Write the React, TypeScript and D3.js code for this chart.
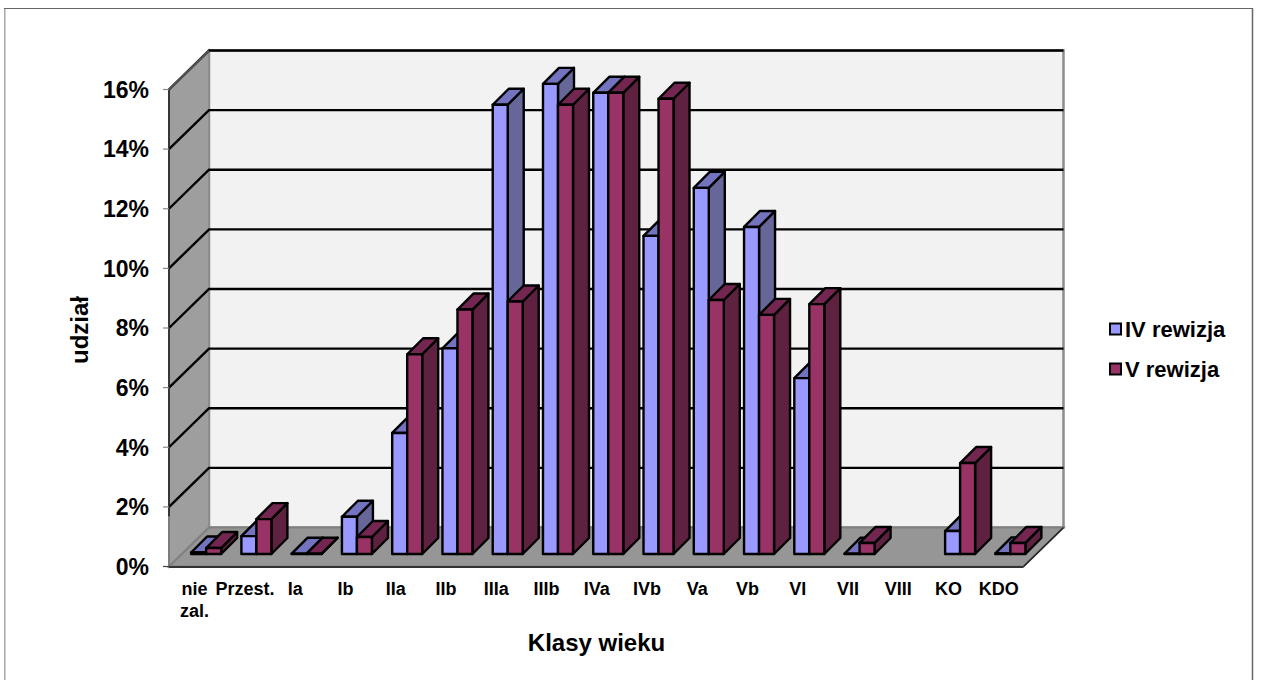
import React from "react";
import * as d3 from "d3";

const categories = ["nie zal.", "Przest.", "Ia", "Ib", "IIa", "IIb", "IIIa", "IIIb", "IVa", "IVb", "Va", "Vb", "VI", "VII", "VIII", "KO", "KDO"];
const rewizjaIV: (number | null)[] = [0.05, 0.6, 0.01, 1.25, 4.06, 6.9, 15.07, 15.77, 15.47, 10.67, 12.28, 10.97, 5.9, 0.01, null, 0.77, 0.02];
const rewizjaV: (number | null)[] = [0.2, 1.17, 0.01, 0.57, 6.7, 8.2, 8.47, 15.07, 15.47, 15.27, 8.52, 8.02, 8.38, 0.37, null, 3.05, 0.37];
const yTicks = [0, 2, 4, 6, 8, 10, 12, 14, 16];

const W = 1261, H = 680;
const font = "Liberation Sans, Arial, sans-serif";
const x = d3.scaleBand<string>().domain(categories).range([169, 1023.5]);
const y = d3.scaleLinear().domain([0, 16]).range([566.5, 89.5]);
const dx = 40, dy = 39;
const insetX = 12, insetY = 12.5;
const barW = 15;
const barD = 16;
const pts = (p: number[][]) => p.map(a => a.join(",")).join(" ");

type Pal = { front: string; top: string; side: string };
const blue: Pal = { front: "#9999ff", top: "#7373bf", side: "#666699" };
const red: Pal = { front: "#993366", top: "#732650", side: "#5e2140" };

function Bar({ x0, v, p }: { x0: number; v: number; p: Pal }) {
  const base = y(0) - insetY;
  const top = y(v) - insetY;
  const x1 = x0 + barW;
  return (
    <g stroke="#000" strokeWidth={2.4} strokeLinejoin="round">
      <polygon points={pts([[x1, top], [x1 + barD, top - barD], [x1 + barD, base - barD], [x1, base]])} fill={p.side} />
      <polygon points={pts([[x0, top], [x0 + barD, top - barD], [x1 + barD, top - barD], [x1, top]])} fill={p.top} />
      <rect x={x0} y={top} width={barW} height={base - top} fill={p.front} />
    </g>
  );
}

export default function App() {
  const yTop = y(16), yBot = y(0);
  const xL = 169, xR = 1023.5;
  return (
    <svg width={W} height={H} viewBox={`0 0 ${W} ${H}`} style={{ position: "absolute", left: 0, top: 0, display: "block", background: "#fff" }} fontFamily={font} fontWeight="bold" fill="#000">
      <line x1={4.8} y1={8} x2={4.8} y2={H} stroke="#a8a8a8" strokeWidth={1.5} />
      <line x1={4} y1={8.5} x2={1253} y2={8.5} stroke="#666" strokeWidth={1.2} />
      <line x1={1252.5} y1={8} x2={1252.5} y2={H} stroke="#666" strokeWidth={1.5} />
      {/* walls */}
      <polygon points={pts([[xL + dx, yTop - dy], [xR + dx, yTop - dy], [xR + dx, yBot - dy], [xL + dx, yBot - dy]])} fill="#f2f2f2" stroke="#8c8c8c" strokeWidth={2.5} />
      <polygon points={pts([[xL, yTop], [xL + dx, yTop - dy], [xL + dx, yBot - dy], [xL, yBot]])} fill="#9e9e9e" stroke="#8c8c8c" strokeWidth={2} />
      <polygon points={pts([[xL, yBot], [xL + dx, yBot - dy], [xR + dx, yBot - dy], [xR, yBot]])} fill="#969696" stroke="#808080" strokeWidth={2} />
      {/* grid lines */}
      {yTicks.slice(1).map(t => (
        <polyline key={t} points={pts([[xL, y(t)], [xL + dx, y(t) - dy], [xR + dx, y(t) - dy]])} stroke="#000" strokeWidth={2.4} fill="none" />
      ))}
      <line x1={xL} y1={yTop} x2={xL + dx} y2={yTop - dy} stroke="#555" strokeWidth={2} />
      <line x1={xL} y1={yBot + 0.5} x2={xR} y2={yBot + 0.5} stroke="#333" strokeWidth={2.2} />
      <line x1={xR} y1={yBot} x2={xR + dx} y2={yBot - dy} stroke="#222" strokeWidth={1.5} />
      <line x1={xL} y1={yTop} x2={xL} y2={yBot - 50} stroke="#222" strokeWidth={1.6} />
      <line x1={xL} y1={yBot - 50} x2={xL} y2={yBot} stroke="#777" strokeWidth={1.5} />
      {/* axis ticks and labels */}
      {yTicks.map(t => (
        <g key={t}>
          <line x1={163} x2={xL} y1={y(t)} y2={y(t)} stroke={t === 0 ? "#444" : "#888"} strokeWidth={1.2} />
          <text x={149} y={y(t)} dy="0.36em" textAnchor="end" fontSize={23}>{t}%</text>
        </g>
      ))}
      {/* bars */}
      {categories.map((c, i) => {
        const cx = x(c)! + x.bandwidth() / 2 + insetX;
        const a = rewizjaIV[i], b = rewizjaV[i];
        return (
          <g key={c}>
            {a != null && <Bar x0={cx - barW} v={a} p={blue} />}
            {b != null && <Bar x0={cx} v={b} p={red} />}
          </g>
        );
      })}
      {/* category labels */}
      {categories.map(c => {
        const parts = c.split(" ");
        const cx = x(c)! + x.bandwidth() / 2 + 0.5;
        return (
          <text key={c} y={595} textAnchor="middle" fontSize={18}>
            {parts.map((s, j) => <tspan key={s} x={cx} dy={j ? 22 : 0}>{s}</tspan>)}
          </text>
        );
      })}
      <text x={596.5} y={651} textAnchor="middle" fontSize={24}>Klasy wieku</text>
      <text transform="translate(88,330) rotate(-90)" textAnchor="middle" fontSize={24}>udział</text>
      {/* legend */}
      <rect x={1110} y={323.5} width={11} height={11} fill={blue.front} stroke="#000" strokeWidth={2} />
      <text x={1125} y={336.5} fontSize={22}>IV rewizja</text>
      <rect x={1110} y={363.5} width={11} height={11} fill={red.front} stroke="#000" strokeWidth={2} />
      <text x={1125} y={377} fontSize={22}>V rewizja</text>
    </svg>
  );
}
